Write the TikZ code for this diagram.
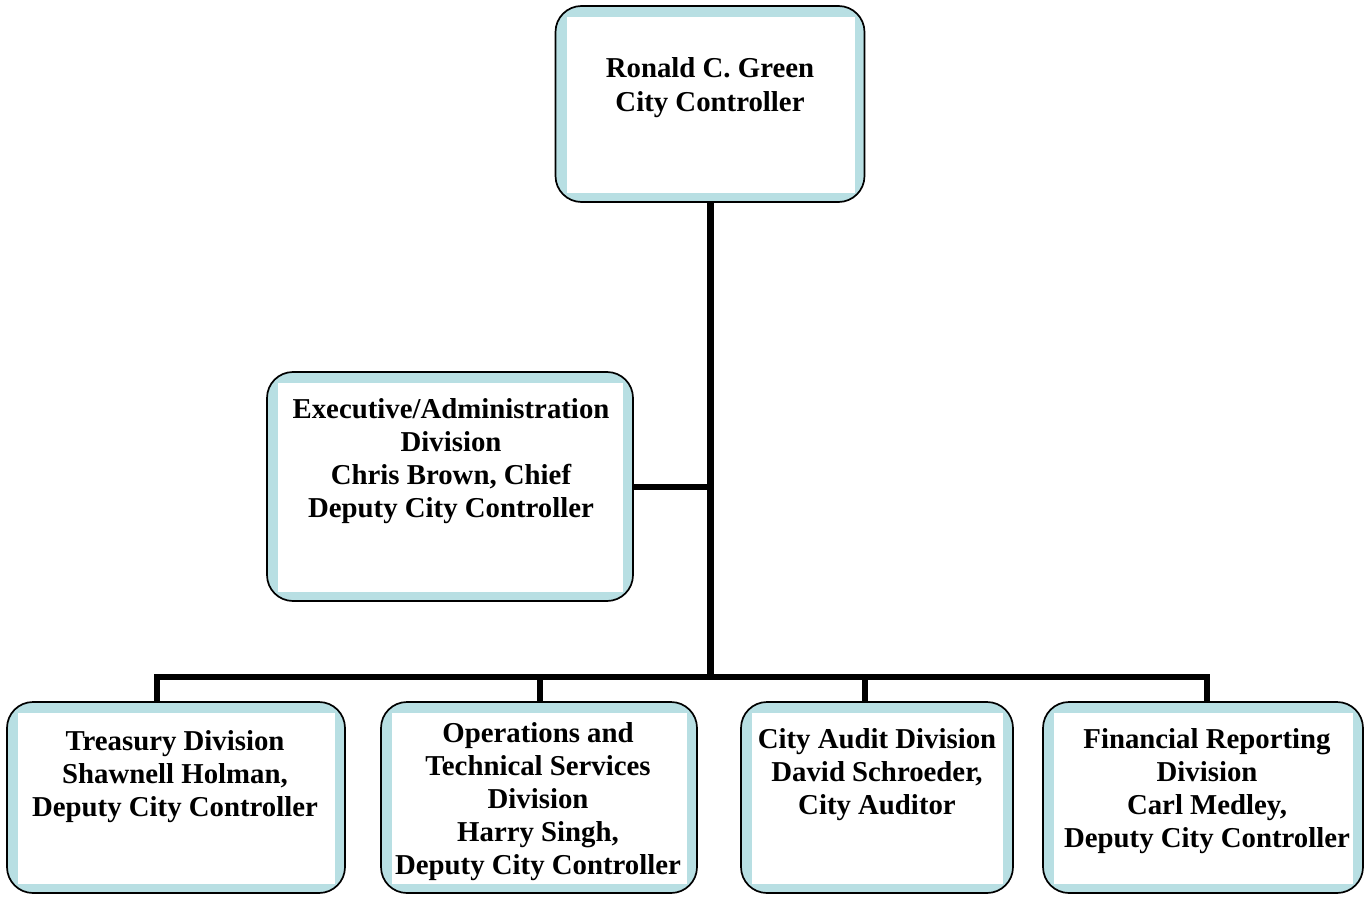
\documentclass[tikz,border=0pt]{standalone}
\usepackage{fontspec}
\setmainfont{Liberation Serif}
\usetikzlibrary{calc}
\definecolor{boxblue}{RGB}{184,223,227}
\tikzset{box/.style={rectangle,rounded corners=26pt,draw,line width=1.7pt,fill=boxblue,
  path picture={\fill[white,sharp corners] ($(path picture bounding box.north west)+(11pt,-11pt)$) rectangle ($(path picture bounding box.south east)+(-10pt,9pt)$);}}}
\tikzset{t/.style={anchor=north,align=center,inner sep=0pt,font=\fontsize{28.8}{33}\selectfont\bfseries}}
\tikzset{wire/.style={line width=6pt}}

\begin{document}
\begin{tikzpicture}[x=1pt,y=-1pt]
      \useasboundingbox (0,0) rectangle (1372,896);
      % boxes
      \node[box,minimum width=309pt,minimum height=196pt] (ctrl) at (710,104) {};
      \node[box,minimum width=366pt,minimum height=229pt] (exec) at (450,486.5) {};
      \node[box,minimum width=338pt,minimum height=191pt] (treas) at (176,797.5) {};
      \node[box,minimum width=316pt,minimum height=191pt] (ops) at (539,797.5) {};
      \node[box,minimum width=272pt,minimum height=191pt] (audit) at (877,797.5) {};
      \node[box,minimum width=320pt,minimum height=191pt] (fin) at (1203,797.5) {};
      % texts
      \node[t,font=\fontsize{28.8}{34}\selectfont\bfseries] (ctrlT) at (710,57) {Ronald C. Green\\City Controller};
      \node[t] (execT) at (451,398) {Executive/Administration\\Division\\Chris Brown, Chief\\Deputy City Controller};
      \node[t] (treasT) at (175,730) {Treasury Division\\Shawnell Holman,\\Deputy City Controller};
      \node[t] (opsT) at (538,722) {Operations and\\Technical Services\\Division\\Harry Singh,\\Deputy City Controller};
      \node[t] (auditT) at (877,728) {City Audit Division\\David Schroeder,\\City Auditor};
      \node[t] (finT) at (1207,728) {Financial Reporting\\Division\\Carl Medley,\\Deputy City Controller};
      % lines
      \coordinate (bus) at (710,677);
      \coordinate (dT) at (157,677);
      \coordinate (dO) at (540,677);
      \coordinate (dA) at (865,677);
      \coordinate (dF) at (1207,677);
      \draw[wire,line width=7pt] (ctrl.south) -- (bus);
      \draw[wire] (exec.east) -- (exec.east -| bus);
      \draw[wire] (dT |- treas.north) -- (dT) -- (dF) -- (dF |- fin.north);
      \foreach \a/\b in {dO/ops,dA/audit}
        \draw[wire] (\a) -- (\a |- \b.north);
    \end{tikzpicture}
\end{document}
